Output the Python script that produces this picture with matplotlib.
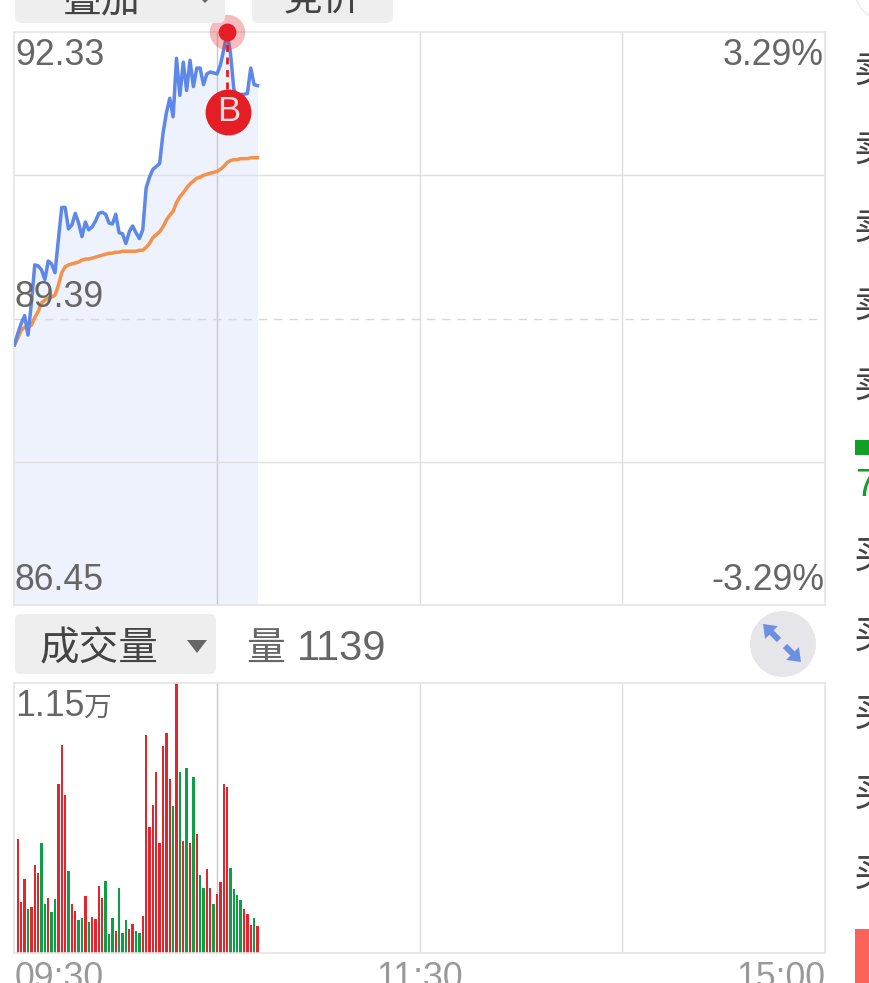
"""分时图 (price / average / volume) 截图 재현."""
import matplotlib
matplotlib.use("Agg")
import matplotlib.pyplot as plt
from matplotlib.patches import Circle, FancyBboxPatch, Polygon, FancyArrow

W, H = 869, 983
CJK = ["Noto Sans CJK SC", "DejaVu Sans"]
NUM = "Liberation Sans"

PRICE_MIN, PRICE_MID, PRICE_MAX = 86.45, 89.39, 92.33
VOL_MAX = 11500
SESSION_MIN = 240
GRID_MIN = [60, 120, 180]

price = [
    89.12, 89.24, 89.34, 89.42, 89.22, 89.55, 89.94, 89.93, 89.89, 89.79,
    89.98, 89.95, 89.86, 90.20, 90.53, 90.53, 90.31, 90.35, 90.47, 90.37,
    90.23, 90.38, 90.30, 90.33, 90.39, 90.47, 90.48, 90.46, 90.37, 90.36,
    90.46, 90.27, 90.26, 90.16, 90.28, 90.34, 90.27, 90.21, 90.30, 90.73,
    90.84, 90.92, 90.95, 90.98, 91.29, 91.50, 91.65, 91.46, 92.06, 91.68,
    92.02, 91.73, 92.04, 91.77, 91.96, 91.96, 91.79, 91.90, 91.92, 91.91,
    91.90, 91.99, 92.15, 92.32, 92.11, 91.74, 91.68, 91.69, 91.69, 91.70,
    91.96, 91.79, 91.78,
]
avg_price = [
    89.12, 89.19, 89.27, 89.30, 89.30, 89.32, 89.40, 89.46, 89.55, 89.58,
    89.60, 89.61, 89.63, 89.73, 89.86, 89.92, 89.94, 89.95, 89.96, 89.97,
    89.99, 90.00, 90.00, 90.01, 90.02, 90.03, 90.04, 90.05, 90.06, 90.06,
    90.07, 90.07, 90.08, 90.08, 90.08, 90.08, 90.08, 90.09, 90.09, 90.12,
    90.16, 90.22, 90.25, 90.28, 90.33, 90.40, 90.45, 90.49, 90.58, 90.64,
    90.68, 90.73, 90.77, 90.80, 90.83, 90.84, 90.86, 90.87, 90.88, 90.89,
    90.90, 90.92, 90.95, 90.99, 91.01, 91.02, 91.02, 91.03, 91.03, 91.03,
    91.04, 91.04, 91.04,
]
volume = [
    4856, 2173, 3167, 1889, 1974, 3763, 3408, 4700, 2102, 2357,
    1747, 2300, 7185, 8861, 6717, 3493, 2102, 1803, 1420, 1505,
    2442, 1321, 1534, 1448, 2868, 2357, 3053, 795, 1491, 937,
    2783, 852, 1406, 1008, 1235, 923, 852, 1562, 9301, 5368,
    6305, 7711, 4686, 8818, 9372, 7427, 6262, 11500, 7711, 4771,
    7881, 4686, 7498, 5084, 3337, 2769, 3578, 2769, 2087, 2499,
    3010, 7185, 7072, 3621, 2726, 2471, 2244, 1874, 1676, 1207,
    1505, 1139,
]
# 1 = 上涨(红), 0 = 下跌(绿)
vol_up = [
    1, 1, 1, 0, 1, 1, 1, 0, 0, 1,
    0, 0, 1, 1, 1, 0, 1, 1, 0, 0,
    1, 0, 1, 1, 1, 1, 0, 0, 0, 1,
    0, 0, 0, 1, 1, 0, 0, 1, 1, 1,
    1, 1, 1, 1, 1, 1, 0, 1, 0, 1,
    0, 1, 0, 1, 0, 0, 1, 1, 0, 1,
    1, 1, 1, 0, 0, 0, 0, 1, 1, 1,
    0, 1,
]
buy_minute, buy_price, buy_label_price = 63, 92.33, 91.51


def add_axes_px(fig, left, top, right, bottom):
    return fig.add_axes([left / W, 1 - bottom / H, (right - left) / W, (bottom - top) / H])


fig = plt.figure(figsize=(W / 100, H / 100), dpi=100, facecolor="white")

# ── 价格 ──
ax = add_axes_px(fig, 14.5, 32, 824.5, 605)
minutes = list(range(len(price)))
ax.fill_between(minutes, price, PRICE_MIN, color="#eef2fd", lw=0, zorder=1)
for m in GRID_MIN:
    ax.axvline(m, color="#c6c8d0" if m == 60 else "#dcdcdc", lw=1, zorder=2)
ax.axhline((PRICE_MAX + PRICE_MID) / 2, color="#e0e0e0", lw=1, zorder=2)
ax.axhline((PRICE_MIN + PRICE_MID) / 2, color="#e0e0e0", lw=1, zorder=2)
ax.axhline(PRICE_MID, color="#d8d8d8", lw=1, ls=(0, (6, 5)), zorder=2)
ax.plot(minutes, avg_price, color="#f4914a", lw=2.5, zorder=3)
ax.plot(minutes, price, color="#5d87e8", lw=2.5, zorder=4)
ax.plot([buy_minute, buy_minute], [buy_price, buy_label_price], color="#e41e24",
        lw=2, ls=(0, (2.5, 2)), zorder=5, clip_on=False)
ax.scatter([buy_minute], [buy_price], s=650, color="#e41e24", alpha=0.3, lw=0,
           zorder=6, clip_on=False)
ax.scatter([buy_minute], [buy_price], s=165, color="#e41e24", lw=0, zorder=7, clip_on=False)
ax.scatter([buy_minute + 0.4], [buy_label_price], s=1090, color="#e41e24", lw=0,
           zorder=7, clip_on=False)
ax.text(buy_minute + 0.4, buy_label_price, "B", color="#ffe0e0", fontsize=25, family=NUM,
        ha="center", va="center", zorder=8)
ax.set_xlim(0, SESSION_MIN)
ax.set_ylim(PRICE_MIN, PRICE_MAX)

# ── 成交量 ──
ax2 = add_axes_px(fig, 14.5, 683, 824.5, 953)
for m in GRID_MIN:
    ax2.axvline(m, color="#c6c8d0" if m == 60 else "#dcdcdc", lw=1, zorder=1)
bar_x = [i + 1 for i in range(len(volume))]
bar_colors = ["#e3262e" if u else "#0d9f46" for u in vol_up]
ax2.bar(bar_x, volume, width=0.72, color=bar_colors, lw=0, zorder=2)
ax2.set_xlim(0, SESSION_MIN)
ax2.set_ylim(0, VOL_MAX)

for a in (ax, ax2):
    a.set_xticks([])
    a.set_yticks([])
    for s in a.spines.values():
        s.set_color("#e4e4e4")
        s.set_linewidth(1.2)

# ── 界面部分 (像素坐标) ──
ui = fig.add_axes([0, 0, 1, 1], zorder=10)
ui.set_xlim(0, W)
ui.set_ylim(H, 0)
ui.axis("off")
ui.patch.set_alpha(0)


def button(x0, y0, x1, y1):
    ui.add_patch(FancyBboxPatch((x0 + 6, y0 + 6), x1 - x0 - 12, y1 - y0 - 12,
                                boxstyle="round,pad=6", fc="#eeeeee", ec="none", clip_on=False))


button(15, -30, 225, 23)
button(252, -30, 393, 23)
button(15, 614, 216, 674)
ui.text(102, 11, "叠加", family=CJK, fontsize=28, color="#444444", ha="center", va="baseline")
ui.text(322, 11, "竞价", family=CJK, fontsize=28, color="#444444", ha="center", va="baseline")
ui.add_patch(Polygon([[200, -2], [210, -2], [205, 3]], fc="#666666", ec="none"))
ui.text(40, 660, "成交量", family=CJK, fontsize=28.5, color="#444444", va="baseline")
ui.add_patch(Polygon([[187, 640], [207, 640], [197, 653]], fc="#666666", ec="none"))
ui.text(246, 660, "量", family=CJK, fontsize=28, color="#666666", va="baseline")
ui.text(297, 660, "1139", family=NUM, fontsize=30, color="#666666", va="baseline")

grey = "#666666"
ui.text(15, 65, "92.33", family=NUM, fontsize=25.7, color=grey, va="baseline")
ui.text(15, 307, "89.39", family=NUM, fontsize=25.7, color=grey, va="baseline")
ui.text(15, 590, "86.45", family=NUM, fontsize=25.7, color=grey, va="baseline")
ui.text(824, 65, "3.29%", family=NUM, fontsize=25.7, color=grey, ha="right", va="baseline")
ui.text(824, 590, "-3.29%", family=NUM, fontsize=25.7, color=grey, ha="right", va="baseline")
ui.text(15, 716, "1.15", family=NUM, fontsize=25.7, color=grey, va="baseline")
ui.text(83, 716, "万", family=CJK, fontsize=20, color=grey, va="baseline")

ui.text(15, 988, "09:30", family=NUM, fontsize=25.7, color="#999999", va="baseline")
ui.text(420, 988, "11:30", family=NUM, fontsize=25.7, color="#999999", ha="center", va="baseline")
ui.text(825, 988, "15:00", family=NUM, fontsize=25.7, color="#999999", ha="right", va="baseline")

# 展开按钮
ui.add_patch(Circle((783, 644), 33, fc="#e6e6ea", ec="none"))
ui.add_patch(FancyArrow(779, 640, -16, -16, width=6, head_width=18, head_length=12,
                        length_includes_head=True, fc="#6b8fe2", ec="none"))
ui.add_patch(FancyArrow(785, 646, 16, 16, width=6, head_width=18, head_length=12,
                        length_includes_head=True, fc="#6b8fe2", ec="none"))

# 右侧被裁切的盘口
for y in (82, 161, 239, 317, 397):
    ui.text(854, y, "卖", family=CJK, fontsize=28, color="#444444", va="baseline")
for y in (568, 648, 726, 806, 886):
    ui.text(854, y, "买", family=CJK, fontsize=28, color="#444444", va="baseline")
ui.add_patch(plt.Rectangle((855, 440), 20, 15, fc="#12a024", ec="none"))
ui.text(855, 496, "7", family=NUM, fontsize=27, color="#12a024", va="baseline")
ui.add_patch(plt.Rectangle((855, 929), 20, 60, fc="#fb6358", ec="none"))
ui.add_patch(Circle((885, -10), 30, fc="none", ec="#eeeeee", lw=1.2))

fig.savefig("out.png", dpi=100)
